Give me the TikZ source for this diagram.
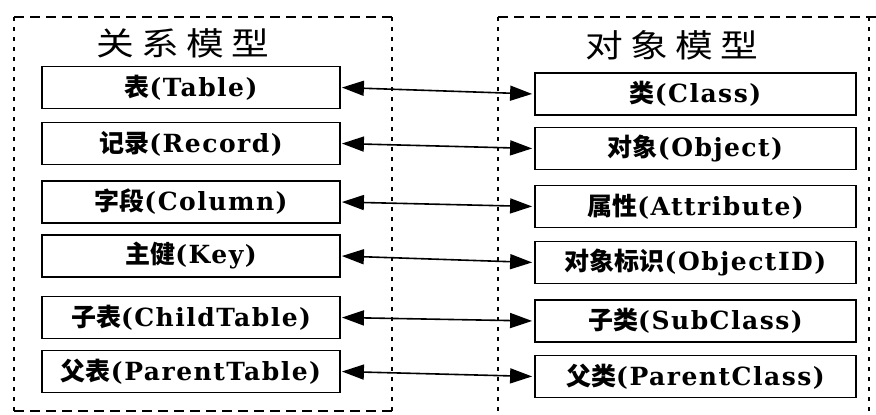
\documentclass[tikz,border=0pt]{standalone}
\usepackage{fontspec}
\usepackage{graphicx}
\usetikzlibrary{arrows.meta}
\newfontfamily\cjk{Noto Sans CJK SC}
\newfontfamily\lat{DejaVu Serif}[LetterSpace=6]
\newcommand{\bxt}[2]{{\cjk\bfseries\fontsize{25}{28}\selectfont #1}{\lat\bfseries\fontsize{25}{30}\selectfont #2}}
\newcommand{\ttl}[4]{\cjk\fontsize{32}{36}\selectfont\scalebox{1.18}[1]{#1}\hspace{7pt}\scalebox{1.18}[1]{#2}\hspace{7pt}\scalebox{1.18}[1]{#3}\hspace{7pt}\scalebox{1.18}[1]{#4}}
\tikzset{
  lbox/.style={draw, line width=1.8pt, minimum width=298pt, minimum height=42pt, inner sep=0pt},
  rbox/.style={draw, line width=1.8pt, minimum width=321pt, minimum height=42pt, inner sep=0pt},
  link/.style={line width=1.6pt, {Triangle[length=22pt,width=15pt]}-{Triangle[length=22pt,width=15pt]}, shorten <=1pt, shorten >=2pt},
  hdash/.style={line width=1.5pt, dash pattern=on 10pt off 6pt},
  vdash/.style={line width=1.2pt, dash pattern=on 4pt off 6pt},
  ttlnode/.style={inner sep=0pt}
}
\begin{document}
\begin{tikzpicture}[x=1pt,y=-1pt]
\useasboundingbox[fill=white] (0,0) rectangle (876,415);
% containers
\draw[hdash] (14,17) -- (392,17);
\draw[hdash] (14,411) -- (392,411);
\draw[vdash] (14,17) -- (14,411);
\draw[vdash] (392,17) -- (392,415);
\draw[hdash] (498,17) -- (876,17);
\draw[vdash] (498,17) -- (498,415);
\draw[vdash] (869,17) -- (869,415);
% titles
\node[ttlnode] (t1) at (183,43) {\ttl{关}{系}{模}{型}};
\node[ttlnode] (t2) at (672,45) {\ttl{对}{象}{模}{型}};
% left boxes
\node[lbox] (L1) at (191,87.5) {\bxt{表}{(Table)}};
\node[lbox] (L2) at (191,143.5) {\bxt{记录}{(Record)}};
\node[lbox] (L3) at (191,202) {\bxt{字段}{(Column)}};
\node[lbox] (L4) at (191,256) {\bxt{主健}{(Key)}};
\node[lbox] (L5) at (191,317.5) {\bxt{子表}{(ChildTable)}};
\node[lbox] (L6) at (191,371.5) {\bxt{父表}{(ParentTable)}};
% right boxes
\node[rbox] (R1) at (695.5,94) {\bxt{类}{(Class)}};
\node[rbox] (R2) at (695.5,148.5) {\bxt{对象}{(Object)}};
\node[rbox] (R3) at (695.5,206.5) {\bxt{属性}{(Attribute)}};
\node[rbox] (R4) at (695.5,262.5) {\bxt{对象标识}{(ObjectID)}};
\node[rbox] (R5) at (695.5,321) {\bxt{子类}{(SubClass)}};
\node[rbox] (R6) at (695.5,376.5) {\bxt{父类}{(ParentClass)}};
% links
\foreach \i in {1,...,6} {
  \draw[link] (L\i.east) -- (R\i.west);
}
\end{tikzpicture}
\end{document}
